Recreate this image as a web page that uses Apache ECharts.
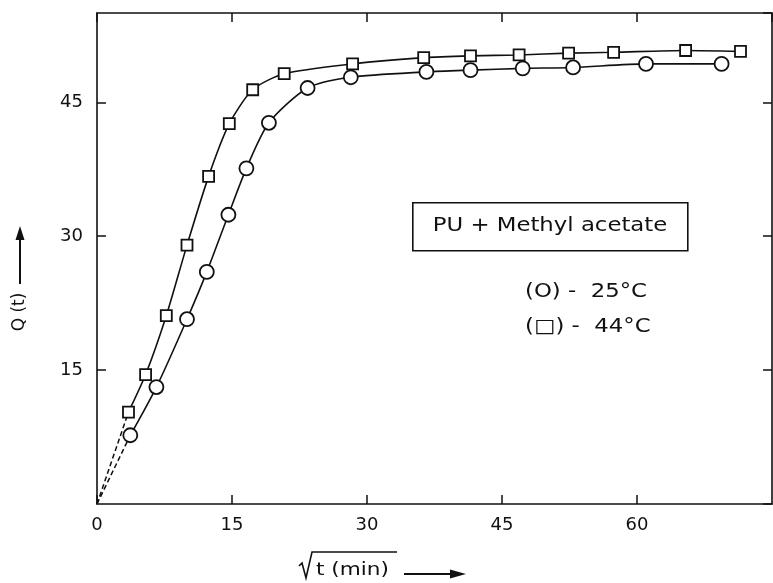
<!DOCTYPE html>
<html>
<head>
<meta charset="utf-8">
<script src="https://cdn.jsdelivr.net/npm/echarts@6/dist/echarts.min.js"></script>
<style>
  html, body { margin: 0; padding: 0; background: #fff; }
  #chart { width: 773px; height: 583px; }
</style>
</head>
<body>
<div id="chart"></div>
<script>
// Sorption of methyl acetate in PU: Q(t) against sqrt(t)
const sqrtT25 = [3.7, 6.6, 10.0, 12.2, 14.6, 16.6, 19.1, 23.4, 28.2, 36.6, 41.5, 47.3, 52.9, 61.0, 69.4];
const q25     = [7.7, 13.1, 20.7, 26.0, 32.4, 37.6, 42.7, 46.6, 47.8, 48.4, 48.6, 48.8, 48.9, 49.3, 49.3];

const sqrtT44 = [3.5, 5.4, 7.7, 10.0, 12.4, 14.7, 17.3, 20.8, 28.4, 36.3, 41.5, 46.9, 52.4, 57.4, 65.4, 71.5];
const q44     = [10.3, 14.5, 21.1, 29.0, 36.7, 42.6, 46.4, 48.2, 49.3, 50.0, 50.2, 50.3, 50.5, 50.6, 50.8, 50.7];

const xTicks = [0, 15, 30, 45, 60];
const yTicks = [15, 30, 45];

const FONT = 'DejaVu Sans';
const INK = '#111';

const pairs = (xs, ys) => xs.map((x, i) => [x, ys[i]]);
// dashed extrapolation from the origin to the first measured point
const toOrigin = (xs, ys) => [[0, 0], [xs[0], ys[0]]];

const tickCommon = { inside: true, length: 9, lineStyle: { color: INK, width: 1.5 } };
const lineCommon = { show: true, onZero: false, lineStyle: { color: INK, width: 1.6 } };

// wide-set annotation text
const wideText = (text, x, y, size, align) => ({
  type: 'text', x: x, y: y, scaleX: 1.2, z: 11,
  style: {
    text: text, font: size + 'px "' + FONT + '"', fill: INK,
    textAlign: align, textVerticalAlign: 'middle'
  }
});

const chart = echarts.init(document.getElementById('chart'), null, { renderer: 'canvas' });

chart.setOption({
  backgroundColor: '#fff',
  animation: false,
  grid: { left: 97, right: 1, top: 13, bottom: 79 },
  xAxis: [
    {
      type: 'value', min: 0, max: 75, interval: 15, position: 'bottom',
      axisLine: lineCommon, axisTick: tickCommon, splitLine: { show: false },
      axisLabel: {
        color: INK, fontFamily: FONT, fontSize: 18, margin: 12, showMaxLabel: false,
        formatter: v => (xTicks.includes(v) ? String(v) : '')
      }
    },
    {
      type: 'value', min: 0, max: 75, interval: 15, position: 'top',
      axisLine: lineCommon, axisTick: tickCommon, splitLine: { show: false },
      axisLabel: { show: false }
    }
  ],
  yAxis: [
    {
      type: 'value', min: 0, max: 55, interval: 15, position: 'left',
      axisLine: lineCommon, axisTick: tickCommon, splitLine: { show: false },
      axisLabel: {
        color: INK, fontFamily: FONT, fontSize: 18, margin: 14,
        showMinLabel: false, showMaxLabel: false,
        formatter: v => (yTicks.includes(v) ? String(v) : '')
      }
    },
    {
      type: 'value', min: 0, max: 55, interval: 15, position: 'right',
      axisLine: lineCommon, axisTick: tickCommon, splitLine: { show: false },
      axisLabel: { show: false }
    }
  ],
  series: [
    {
      name: 'origin-25', type: 'line', data: toOrigin(sqrtT25, q25),
      symbol: 'none', lineStyle: { color: INK, width: 1.5, type: [5, 3] }, z: 1
    },
    {
      name: 'origin-44', type: 'line', data: toOrigin(sqrtT44, q44),
      symbol: 'none', lineStyle: { color: INK, width: 1.5, type: [5, 3] }, z: 1
    },
    {
      name: '25 °C', type: 'line', data: pairs(sqrtT25, q25), smooth: 0.25,
      symbol: 'circle', symbolSize: 14,
      lineStyle: { color: INK, width: 1.6 },
      itemStyle: { color: '#fff', borderColor: INK, borderWidth: 1.8 }, z: 3
    },
    {
      name: '44 °C', type: 'line', data: pairs(sqrtT44, q44), smooth: 0.25,
      symbol: 'rect', symbolSize: 11,
      lineStyle: { color: INK, width: 1.6 },
      itemStyle: { color: '#fff', borderColor: INK, borderWidth: 1.8 }, z: 3
    }
  ],
  graphic: [
    // system box
    {
      type: 'rect', left: 412, top: 202, z: 10,
      shape: { width: 275, height: 48 },
      style: { fill: '#fff', stroke: INK, lineWidth: 1.6 }
    },
    wideText('PU + Methyl acetate', 550, 226, 19, 'center'),
    wideText('(O) -  25°C', 525, 292, 19, 'left'),
    wideText('(□) -  44°C', 525, 327, 19, 'left'),
    // y axis title with arrow
    {
      type: 'text', x: 20, y: 312, rotation: Math.PI / 2, z: 11,
      style: {
        text: 'Q (t)', font: '17px "' + FONT + '"', fill: INK,
        textAlign: 'center', textVerticalAlign: 'middle'
      }
    },
    {
      type: 'line', z: 11,
      shape: { x1: 20, y1: 284, x2: 20, y2: 236 },
      style: { stroke: INK, lineWidth: 2 }
    },
    {
      type: 'polygon', z: 11,
      shape: { points: [[20, 226], [15.5, 240], [24.5, 240]] },
      style: { fill: INK }
    },
    // x axis title: radical sign over t (min), then arrow
    {
      type: 'polyline', z: 11,
      shape: { points: [[299, 566], [302, 563], [306, 578], [312, 552], [397, 552]] },
      style: { stroke: INK, lineWidth: 1.6, fill: null }
    },
    wideText('t (min)', 316, 570, 18, 'left'),
    {
      type: 'line', z: 11,
      shape: { x1: 404, y1: 574, x2: 452, y2: 574 },
      style: { stroke: INK, lineWidth: 1.8 }
    },
    {
      type: 'polygon', z: 11,
      shape: { points: [[466, 574], [450, 569.5], [450, 578.5]] },
      style: { fill: INK }
    }
  ]
});
</script>
</body>
</html>
